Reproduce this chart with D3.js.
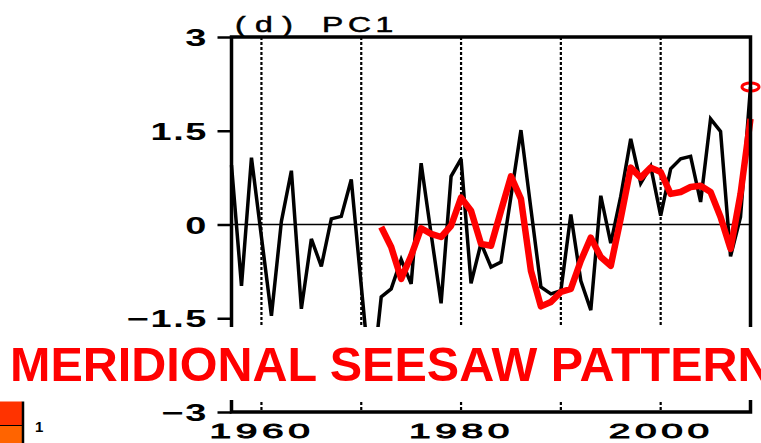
<!DOCTYPE html>
<html>
<head>
<meta charset="utf-8">
<script src="https://cdn.jsdelivr.net/npm/d3@7"></script>
<style>
  html, body { margin: 0; padding: 0; background: #fff; }
  svg { display: block; }
  text { font-family: "Liberation Sans", Arial, Helvetica, sans-serif; }
</style>
</head>
<body>
<svg id="chart" width="761" height="443"></svg>
<script>
// PC1 time series (black) and its smoothed curve (red)
const years = d3.range(1957, 2010);
const pc1 = [0.95, -0.98, 1.07, -0.2, -1.46, 0.05, 0.86, -1.35, -0.23, -0.67,
  0.09, 0.13, 0.72, -0.98, -2.65, -1.16, -1.03, -0.56, -0.95, 0.98,
  -0.15, -1.26, 0.77, 1.05, -0.94, -0.3, -0.68, -0.6, 0.45, 1.51,
  0.25, -1.0, -1.11, -1.06, 0.16, -0.9, -1.37, 0.46, -0.3, 0.45,
  1.37, 0.66, 0.93, 0.14, 0.89, 1.05, 1.09, 0.36, 1.69, 1.49,
  -0.51, 0.12, 2.2];
const smoothYears = d3.range(1972, 2010);
const smooth = [-0.04, -0.36, -0.87, -0.5, -0.06, -0.15, -0.2, -0.02, 0.43, 0.22,
  -0.31, -0.34, 0.22, 0.77, 0.41, -0.74, -1.31, -1.24, -1.08, -1.03,
  -0.58, -0.21, -0.52, -0.66, 0.1, 0.91, 0.75, 0.91, 0.84, 0.49,
  0.52, 0.6, 0.62, 0.52, 0.12, -0.39, 0.49, 1.69];
const yTicks = [3, 1.5, 0, -1.5, -3];
const xLabels = [1960, 1980, 2000];
const decadeLines = [1960, 1970, 1980, 1990, 2000];
const markYear = 2009, markValue = 2.2;
const bannerText = 'MERIDIONAL SEESAW PATTERN';
const legendLabel = '1';

const svg = d3.select('#chart');
const x = d3.scaleLinear().domain([1957, 2009]).range([231.5, 750.5]);
const y = d3.scaleLinear().domain([-3, 3]).range([412, 37]);
const [x0, x1] = x.range(), [yb, yt] = y.range();

// zero line
svg.append('line').attr('x1', x0).attr('x2', x1).attr('y1', y(0)).attr('y2', y(0))
  .attr('stroke', '#000').attr('stroke-width', 1.5);

// dotted decade lines
svg.append('g').selectAll('line').data(decadeLines).join('line')
  .attr('x1', d => x(d)).attr('x2', d => x(d)).attr('y1', yt).attr('y2', yb)
  .attr('stroke', '#000').attr('stroke-width', 2.2).attr('stroke-dasharray', '3,2');

const line = (xs) => d3.line().x((d, i) => x(xs[i])).y(d => y(d));

svg.append('path').datum(pc1).attr('d', line(years))
  .attr('fill', 'none').attr('stroke', '#000').attr('stroke-width', 3.5)
  .attr('stroke-linejoin', 'miter').attr('stroke-miterlimit', 3);

svg.append('path').datum(smooth).attr('d', line(smoothYears))
  .attr('fill', 'none').attr('stroke', '#f00').attr('stroke-width', 6.5)
  .attr('stroke-linejoin', 'round');

svg.append('ellipse').attr('cx', x(markYear)).attr('cy', y(markValue))
  .attr('rx', 8.5).attr('ry', 4).attr('fill', 'none').attr('stroke', '#f00').attr('stroke-width', 3);

// frame
svg.append('rect').attr('x', x0).attr('y', yt).attr('width', x1 - x0).attr('height', yb - yt)
  .attr('fill', 'none').attr('stroke', '#000').attr('stroke-width', 3.5);

// y axis
const yAxis = svg.append('g').attr('transform', `translate(${x0},0)`)
  .call(d3.axisLeft(y).tickValues(yTicks).tickSize(14).tickSizeOuter(0)
    .tickFormat(d => (d < 0 ? '\u2212' : '') + Math.abs(d)));
yAxis.select('.domain').remove();
yAxis.selectAll('.tick line').attr('stroke-width', 2.5);
yAxis.selectAll('.tick text')
  .attr('x', 0).attr('dy', '0.36em')
  .attr('transform', 'translate(-23.5,0) scale(1.58,1)')
  .attr('font-size', 24).attr('font-weight', 'bold').attr('fill', '#000')
  .attr('letter-spacing', 1);

// title
const title = [['(d)', 235, 6.5], ['PC1', 322, 3.2]];
svg.append('g').selectAll('text').data(title).join('text')
  .attr('x', d => d[1]).attr('y', 32).text(d => d[0])
  .attr('font-size', 22).attr('letter-spacing', d => d[2])
  .attr('stroke', '#000').attr('stroke-width', 0.5)
  .attr('transform', d => `translate(${d[1]},0) scale(1.45,1) translate(${-d[1]},0)`);

// white banner with label
svg.append('rect').attr('x', 0).attr('y', 327).attr('width', 761).attr('height', 73).attr('fill', '#fff');
svg.append('text').attr('x', 10).attr('y', 381).text(bannerText)
  .attr('font-size', 48.5).attr('font-weight', 'bold').attr('fill', '#f00');

// colour bar fragment
svg.append('rect').attr('x', 0).attr('y', 401.5).attr('width', 22).attr('height', 24).attr('fill', '#ff3300');
svg.append('rect').attr('x', 0).attr('y', 425.5).attr('width', 22).attr('height', 18).attr('fill', '#ff6400');
svg.append('line').attr('x1', 0).attr('x2', 23).attr('y1', 425.5).attr('y2', 425.5).attr('stroke', '#000').attr('stroke-width', 1);
svg.append('line').attr('x1', 23).attr('x2', 23).attr('y1', 401.5).attr('y2', 443).attr('stroke', '#000').attr('stroke-width', 2.5);
svg.append('text').attr('x', 35).attr('y', 432).text(legendLabel)
  .attr('font-size', 15).attr('font-weight', 'bold');

// x labels
const xAxis = svg.append('g').attr('transform', `translate(0,${yb})`)
  .call(d3.axisBottom(x).tickValues(xLabels).tickSize(0).tickFormat(d3.format('d')));
xAxis.select('.domain').remove();
xAxis.selectAll('.tick text')
  .attr('y', 0).attr('dy', 0)
  .attr('transform', 'translate(0,26) scale(1.85,1)')
  .attr('font-size', 21).attr('fill', '#000').attr('stroke', '#000').attr('stroke-width', 0.9)
  .attr('letter-spacing', 2.5);
</script>
</body>
</html>
